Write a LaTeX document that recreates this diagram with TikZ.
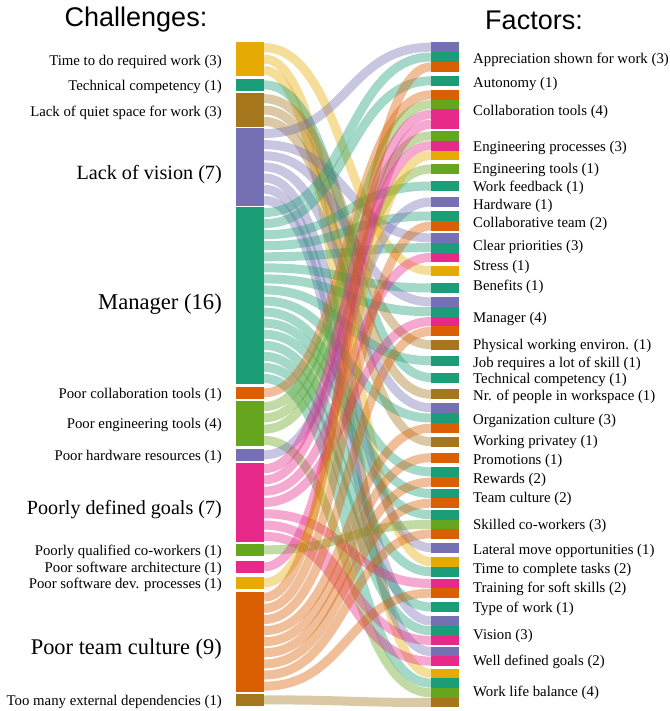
\documentclass[tikz,border=0pt]{standalone}
\usepackage{fontspec}
\setmainfont{Liberation Serif}
\newfontfamily\titlefont{Liberation Sans}
\usetikzlibrary{fit}
\definecolor{cteal}{HTML}{1B9E77}
\definecolor{corange}{HTML}{D95F02}
\definecolor{cpurple}{HTML}{7570B3}
\definecolor{cpink}{HTML}{E7298A}
\definecolor{cgreen}{HTML}{66A61E}
\definecolor{cyel}{HTML}{E6AB02}
\definecolor{cbrown}{HTML}{A6761D}
\begin{document}
\begin{tikzpicture}[x=1pt,y=-1pt,
  band/.style={line width=9pt, opacity=0.4},
  lnode/.style={inner sep=0pt, outer sep=0pt, minimum width=28pt, draw=none},
  seg/.style={inner sep=0pt, outer sep=0pt, draw=none},
  llab/.style={anchor=east, inner sep=0pt, yshift=-1.5pt},
  rlab/.style={anchor=west, inner sep=0pt, yshift=-1.5pt, font=\fontsize{14.8}{16}\selectfont},
  titletext/.style={font=\titlefont\fontsize{27}{31}\selectfont}]
\useasboundingbox (0,0) rectangle (669,711);

\node[titletext] (tL) at (136,20) {Challenges:};
\node[titletext] (tR) at (534,20) {Factors:};

% left (challenge) nodes
\foreach \i/\t/\b/\n/\c/\fs/\lab/\ly in {
  1/42/76/3/cyel/14.8/{Time to do required work (3)}/60,
  2/79/90.7/1/cteal/14.8/{Technical competency (1)}/85,
  3/93/127/3/cbrown/14.8/{Lack of quiet space for work (3)}/111,
  4/128/205.7/7/cpurple/20.2/{Lack of vision (7)}/173,
  5/207/384/16/cteal/22.6/{Manager (16)}/302.5,
  6/386.7/399/1/corange/14.8/{Poor collaboration tools (1)}/393,
  7/401/446/4/cgreen/14.8/{Poor engineering tools (4)}/423.5,
  8/449/460.7/1/cpurple/14.8/{Poor hardware resources (1)}/455,
  9/463/542/7/cpink/20.1/{Poorly defined goals (7)}/508,
  10/544/555.7/1/cgreen/14.8/{Poorly qualified co-workers (1)}/550,
  11/561/572.7/1/cpink/14.8/{Poor software architecture (1)}/567,
  12/577/588.7/1/cyel/14.8/{Poor software dev. processes (1)}/583.5,
  13/591.7/691.7/9/corange/22.4/{Poor team culture (9)}/648,
  14/694/705.7/1/cbrown/14.8/{Too many external dependencies (1)}/700}{
  \pgfmathsetmacro\h{\b-\t}
  \pgfmathsetmacro\cy{(\t+\b)/2}
  \node[lnode, fill=\c, minimum height=\h pt] (L\i) at (250,\cy) {};
  \node[llab, font=\fontsize{\fs}{\fs}\selectfont] (LL\i) at (222,\ly) {\lab};
  \foreach \k in {1,...,\n}{
    \pgfmathsetmacro\sy{\t+(\k-0.5)*\h/\n}
    \coordinate (s\i-\k) at (264,\sy);
  }
}

% right (factor) nodes: slots and labels
\foreach \j/\t/\b/\n/\lab/\ly in {
  1/42.3/71.7/3/{Appreciation shown for work (3)}/58,
  2/76/85.7/1/{Autonomy (1)}/82,
  3/90/129/4/{Collaboration tools (4)}/110,
  4/131/160.3/3/{Engineering processes (3)}/146,
  5/164.3/173.7/1/{Engineering tools (1)}/168,
  6/181/191/1/{Work feedback (1)}/186,
  7/197/207/1/{Hardware (1)}/204,
  8/211/231/2/{Collaborative team (2)}/222,
  9/233/262.3/3/{Clear priorities (3)}/245,
  10/265.7/275.7/1/{Stress (1)}/265,
  11/283/293/1/{Benefits (1)}/285,
  12/297/336.3/4/{Manager (4)}/317,
  13/339.7/349.7/1/{Physical working environ. (1)}/344,
  14/355.7/365.7/1/{Job requires a lot of skill (1)}/362,
  15/372.5/382.5/1/{Technical competency (1)}/378,
  16/389.3/399.3/1/{Nr. of people in workspace (1)}/395,
  17/402.7/433.3/3/{Organization culture (3)}/419,
  18/436.7/446.7/1/{Working privatey (1)}/440,
  19/452.7/462.7/1/{Promotions (1)}/459,
  20/466.7/487.3/2/{Rewards (2)}/478,
  21/488.7/508/2/{Team culture (2)}/497,
  22/510/538.7/3/{Skilled co-workers (3)}/524,
  23/542.7/552.7/1/{Lateral move opportunities (1)}/549,
  24/556.7/576.7/2/{Time to complete tasks (2)}/568,
  25/578.7/598/2/{Training for soft skills (2)}/587,
  26/602/612/1/{Type of work (1)}/607,
  27/616/645.3/3/{Vision (3)}/634,
  28/646.7/666/2/{Well defined goals (2)}/660,
  29/668.7/707.3/4/{Work life balance (4)}/691}{
  \pgfmathsetmacro\h{(\b-\t)/\n}
  \foreach \m in {1,...,\n}{
    \pgfmathsetmacro\ya{\t+(\m-1)*\h}
    \pgfmathsetmacro\yb{\t+\m*\h}
    \pgfmathsetmacro\ym{\t+(\m-0.5)*\h}
    \coordinate (t\j-\m) at (431,\ym);
    \coordinate (ta\j-\m) at (431,\ya);
    \coordinate (tb\j-\m) at (459,\yb);
  }
  \node[rlab] (RL\j) at (473,\ly) {\lab};
}

% flows and the coloured segments of the factor nodes
\foreach \i/\k/\j/\m/\c in {
  1/1/10/1/cyel, 1/2/24/1/cyel, 1/3/29/1/cyel,
  2/1/15/1/cteal,
  3/1/13/1/cbrown, 3/2/16/1/cbrown, 3/3/18/1/cbrown,
  4/1/1/1/cpurple, 4/2/9/1/cpurple, 4/3/12/1/cpurple, 4/4/17/1/cpurple,
  4/5/23/1/cpurple, 4/6/27/1/cpurple, 4/7/28/1/cpurple,
  5/1/1/2/cteal, 5/2/2/1/cteal, 5/3/6/1/cteal, 5/4/8/1/cteal,
  5/5/9/2/cteal, 5/6/11/1/cteal, 5/7/12/2/cteal, 5/8/14/1/cteal,
  5/9/17/2/cteal, 5/10/20/1/cteal, 5/11/21/1/cteal, 5/12/22/1/cteal,
  5/13/24/2/cteal, 5/14/26/1/cteal, 5/15/27/2/cteal, 5/16/29/2/cteal,
  6/1/3/1/corange,
  7/1/3/2/cgreen, 7/2/4/1/cgreen, 7/3/5/1/cgreen, 7/4/29/3/cgreen,
  8/1/7/1/cpurple,
  9/1/3/3/cpink, 9/2/4/2/cpink, 9/3/9/3/cpink, 9/4/12/3/cpink,
  9/5/25/1/cpink, 9/6/27/3/cpink, 9/7/28/2/cpink,
  10/1/22/2/cgreen,
  11/1/3/4/cpink,
  12/1/4/3/cyel,
  13/1/1/3/corange, 13/2/8/2/corange, 13/3/12/4/corange, 13/4/17/3/corange,
  13/5/19/1/corange, 13/6/20/2/corange, 13/7/21/2/corange, 13/8/22/3/corange,
  13/9/25/2/corange,
  14/1/29/4/cbrown}{
  \draw[band, draw=\c] (s\i-\k) .. controls +(83.5,0) and +(-83.5,0) .. (t\j-\m);
  \node[seg, fit=(ta\j-\m)(tb\j-\m), fill=\c] (R\j-\m) {};
}
\end{tikzpicture}
\end{document}
